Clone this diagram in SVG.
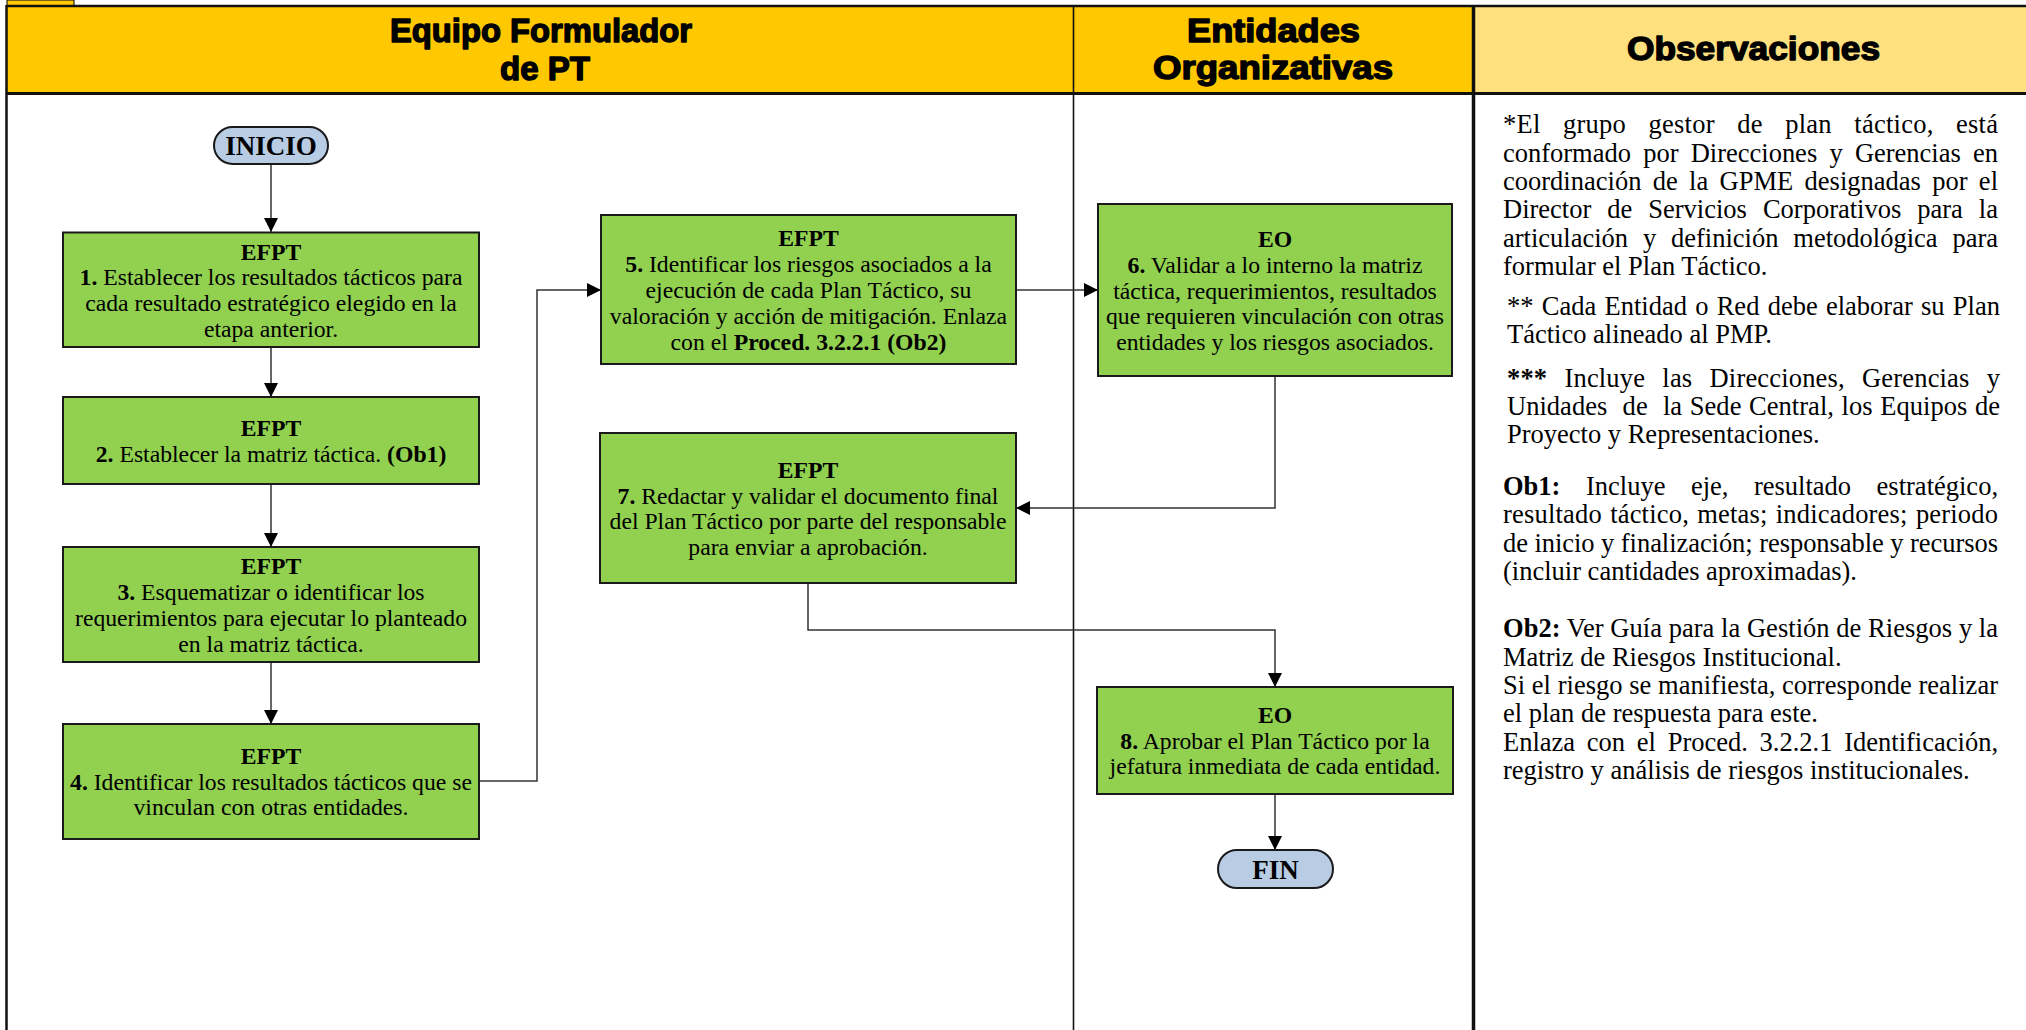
<svg xmlns="http://www.w3.org/2000/svg" width="2026" height="1030" viewBox="0 0 2026 1030">
<style>
.hdr{font-family:"Liberation Sans",Arial,sans-serif;font-weight:bold;font-size:33px;fill:#000;stroke:#000;stroke-width:1.4;stroke-linejoin:round;text-anchor:middle}
.bx{font-family:"Liberation Serif","Times New Roman",serif;font-size:23.7px;fill:#000;text-anchor:middle}
.obs{font-family:"Liberation Serif","Times New Roman",serif;font-size:26.5px;fill:#000}
.b{font-weight:bold}
.node{fill:#92D050;stroke:#1a1a1a;stroke-width:2}
.term{fill:#B8CCE4;stroke:#1a1a1a;stroke-width:2}
.term-t{font-family:"Liberation Serif","Times New Roman",serif;font-size:27px;font-weight:bold;fill:#000;text-anchor:middle}
.conn{fill:none;stroke:#333;stroke-width:1.5}
</style>
<defs>
<marker id="ah" viewBox="0 0 14 14" refX="14" refY="7" markerWidth="14" markerHeight="14" markerUnits="userSpaceOnUse" orient="auto">
<path d="M0,0 L14,7 L0,14 z" fill="#000"/>
</marker>
</defs>
<rect x="0" y="0" width="2026" height="1030" fill="#fff"/>

<g id="frame">
<rect x="7" y="0" width="67" height="6" fill="#FFC800" stroke="#222" stroke-width="1.2"/>
<rect x="6.5" y="6" width="1067" height="87.5" fill="#FFC800"/>
<rect x="1073.5" y="6" width="400" height="87.5" fill="#FFC800"/>
<rect x="1473.5" y="6" width="553" height="87.5" fill="#FFE07F"/>
<line x1="6.5" y1="6" x2="2026" y2="6" stroke="#111" stroke-width="2.5"/>
<line x1="6.5" y1="93.5" x2="2026" y2="93.5" stroke="#111" stroke-width="3"/>
<line x1="6.5" y1="5" x2="6.5" y2="1030" stroke="#111" stroke-width="2.5"/>
<line x1="1073.5" y1="6" x2="1073.5" y2="1030" stroke="#111" stroke-width="1.6"/>
<line x1="1473.5" y1="6" x2="1473.5" y2="1030" stroke="#111" stroke-width="3.5"/>
</g>

<g id="headers">
<text class="hdr" x="541" y="41.5" textLength="302" lengthAdjust="spacingAndGlyphs">Equipo Formulador</text>
<text class="hdr" x="545" y="80" textLength="90" lengthAdjust="spacingAndGlyphs">de PT</text>
<text class="hdr" x="1273.5" y="41.5" textLength="173" lengthAdjust="spacingAndGlyphs">Entidades</text>
<text class="hdr" x="1273" y="78.5" textLength="240" lengthAdjust="spacingAndGlyphs">Organizativas</text>
<text class="hdr" x="1753.5" y="60" textLength="253" lengthAdjust="spacingAndGlyphs">Observaciones</text>
</g>

<g id="connectors">
<path class="conn" d="M271,164 V232" marker-end="url(#ah)"/>
<path class="conn" d="M271,347 V397" marker-end="url(#ah)"/>
<path class="conn" d="M271,484 V547" marker-end="url(#ah)"/>
<path class="conn" d="M271,662 V724" marker-end="url(#ah)"/>
<path class="conn" d="M479,781 H537 V290 H601" marker-end="url(#ah)"/>
<path class="conn" d="M1016,290 H1098" marker-end="url(#ah)"/>
<path class="conn" d="M1275,376 V508 H1016" marker-end="url(#ah)"/>
<path class="conn" d="M808,583 V630 H1275 V687" marker-end="url(#ah)"/>
<path class="conn" d="M1275,794 V850" marker-end="url(#ah)"/>
</g>

<g id="inicio">
<rect class="term" x="214" y="127" width="114" height="37" rx="18.5"/>
<text class="term-t" x="271" y="154.5">INICIO</text>
</g>

<g id="n1">
<rect class="node" x="63" y="232.5" width="416" height="114.5"/>
<text class="bx" x="271" y="259.5"><tspan class="b">EFPT</tspan></text>
<text class="bx" x="271" y="285.3"><tspan class="b">1.</tspan> Establecer los resultados tácticos para</text>
<text class="bx" x="271" y="311.1">cada resultado estratégico elegido en la</text>
<text class="bx" x="271" y="336.9">etapa anterior.</text>
</g>

<g id="n2">
<rect class="node" x="63" y="397" width="416" height="87"/>
<text class="bx" x="271" y="436"><tspan class="b">EFPT</tspan></text>
<text class="bx" x="271" y="462"><tspan class="b">2.</tspan> Establecer la matriz táctica. <tspan class="b">(Ob1)</tspan></text>
</g>

<g id="n3">
<rect class="node" x="63" y="547" width="416" height="115"/>
<text class="bx" x="271" y="574.3"><tspan class="b">EFPT</tspan></text>
<text class="bx" x="271" y="600.1"><tspan class="b">3.</tspan> Esquematizar o identificar los</text>
<text class="bx" x="271" y="625.9">requerimientos para ejecutar lo planteado</text>
<text class="bx" x="271" y="651.7">en la matriz táctica.</text>
</g>

<g id="n4">
<rect class="node" x="63" y="724" width="416" height="115"/>
<text class="bx" x="271" y="763.5"><tspan class="b">EFPT</tspan></text>
<text class="bx" x="271" y="789.5"><tspan class="b">4.</tspan> Identificar los resultados tácticos que se</text>
<text class="bx" x="271" y="815.3">vinculan con otras entidades.</text>
</g>

<g id="n5">
<rect class="node" x="601" y="215" width="415" height="149"/>
<text class="bx" x="808.5" y="246.4"><tspan class="b">EFPT</tspan></text>
<text class="bx" x="808.5" y="272.2"><tspan class="b">5.</tspan> Identificar los riesgos asociados a la</text>
<text class="bx" x="808.5" y="298">ejecución de cada Plan Táctico, su</text>
<text class="bx" x="808.5" y="323.8">valoración y acción de mitigación. Enlaza</text>
<text class="bx" x="808.5" y="349.6">con el <tspan class="b">Proced. 3.2.2.1 (Ob2)</tspan></text>
</g>

<g id="n6">
<rect class="node" x="1098" y="204" width="354" height="172"/>
<text class="bx" x="1275" y="246.9"><tspan class="b">EO</tspan></text>
<text class="bx" x="1275" y="272.7"><tspan class="b">6.</tspan> Validar a lo interno la matriz</text>
<text class="bx" x="1275" y="298.5">táctica, requerimientos, resultados</text>
<text class="bx" x="1275" y="324.3">que requieren vinculación con otras</text>
<text class="bx" x="1275" y="350.1">entidades y los riesgos asociados.</text>
</g>

<g id="n7">
<rect class="node" x="600" y="433" width="416" height="150"/>
<text class="bx" x="808" y="477.8"><tspan class="b">EFPT</tspan></text>
<text class="bx" x="808" y="503.6"><tspan class="b">7.</tspan> Redactar y validar el documento final</text>
<text class="bx" x="808" y="529.4">del Plan Táctico por parte del responsable</text>
<text class="bx" x="808" y="555.2">para enviar a aprobación.</text>
</g>

<g id="n8">
<rect class="node" x="1097" y="687" width="356" height="107"/>
<text class="bx" x="1275" y="722.5"><tspan class="b">EO</tspan></text>
<text class="bx" x="1275" y="748.5"><tspan class="b">8.</tspan> Aprobar el Plan Táctico por la</text>
<text class="bx" x="1275" y="774">jefatura inmediata de cada entidad.</text>
</g>

<g id="fin">
<rect class="term" x="1218" y="850" width="115" height="38" rx="19"/>
<text class="term-t" x="1275.5" y="878.5">FIN</text>
</g>

<g id="observaciones">
<text class="obs" x="1503" y="133.3" style="word-spacing:15.6px" textLength="495" lengthAdjust="spacing">*El grupo gestor de plan táctico, está</text>
<text class="obs" x="1503" y="161.6" style="word-spacing:5.6px" textLength="495" lengthAdjust="spacing">conformado por Direcciones y Gerencias en</text>
<text class="obs" x="1503" y="190" style="word-spacing:4.7px" textLength="495" lengthAdjust="spacing">coordinación de la GPME designadas por el</text>
<text class="obs" x="1503" y="218.3" style="word-spacing:9.4px" textLength="495" lengthAdjust="spacing">Director de Servicios Corporativos para la</text>
<text class="obs" x="1503" y="246.6" style="word-spacing:8.2px" textLength="495" lengthAdjust="spacing">articulación y definición metodológica para</text>
<text class="obs" x="1503" y="275">formular el Plan Táctico.</text>

<text class="obs" x="1507" y="315" style="word-spacing:1.6px" textLength="493" lengthAdjust="spacing">** Cada Entidad o Red debe elaborar su Plan</text>
<text class="obs" x="1507" y="343.3">Táctico alineado al PMP.</text>

<text class="obs" x="1507" y="386.7" style="word-spacing:10.4px" textLength="493" lengthAdjust="spacing"><tspan class="b">***</tspan> Incluye las Direcciones, Gerencias y</text>
<text class="obs" x="1507" y="415" style="white-space:pre;word-spacing:1px" textLength="493" lengthAdjust="spacing">Unidades  de  la Sede Central, los Equipos de</text>
<text class="obs" x="1507" y="443.3">Proyecto y Representaciones.</text>

<text class="obs" x="1503" y="495" style="word-spacing:18.9px" textLength="495" lengthAdjust="spacing"><tspan class="b">Ob1:</tspan> Incluye eje, resultado estratégico,</text>
<text class="obs" x="1503" y="523.3" style="word-spacing:1.4px" textLength="495" lengthAdjust="spacing">resultado táctico, metas; indicadores; periodo</text>
<text class="obs" x="1503" y="551.7" textLength="495" lengthAdjust="spacing">de inicio y finalización; responsable y recursos</text>
<text class="obs" x="1503" y="580">(incluir cantidades aproximadas).</text>

<text class="obs" x="1503" y="637.3" textLength="495" lengthAdjust="spacing"><tspan class="b">Ob2:</tspan> Ver Guía para la Gestión de Riesgos y la</text>
<text class="obs" x="1503" y="665.6">Matriz de Riesgos Institucional.</text>
<text class="obs" x="1503" y="693.9" textLength="495" lengthAdjust="spacing">Si el riesgo se manifiesta, corresponde realizar</text>
<text class="obs" x="1503" y="722.2">el plan de respuesta para este.</text>
<text class="obs" x="1503" y="750.5" style="word-spacing:5.1px" textLength="495" lengthAdjust="spacing">Enlaza con el Proced. 3.2.2.1 Identificación,</text>
<text class="obs" x="1503" y="778.8">registro y análisis de riesgos institucionales.</text>
</g>
</svg>
